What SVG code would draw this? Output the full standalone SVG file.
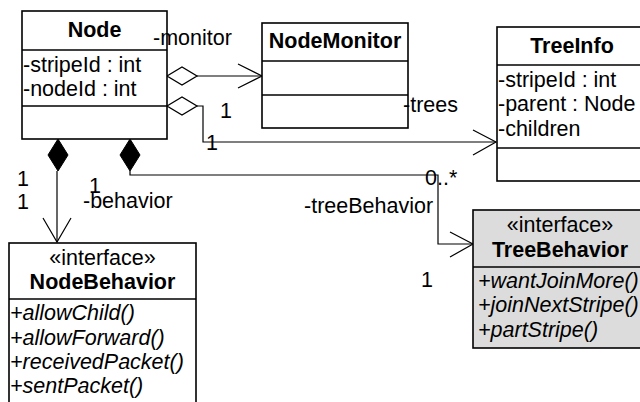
<svg xmlns="http://www.w3.org/2000/svg" width="640" height="402" viewBox="0 0 640 402">
<style>
text{font-family:"Liberation Sans",Arial,sans-serif;font-size:21.5px;fill:#000}
.b{font-weight:bold}
.i{font-style:italic}
.c{text-anchor:middle}
.box{fill:#fff;stroke:#000;stroke-width:1.6}
.gbox{fill:#dcdcdc;stroke:#000;stroke-width:1.6}
.sep{stroke:#000;stroke-width:1.6;fill:none}
.ln{fill:none;stroke:#000;stroke-width:1.2}
.hd{fill:#fff;stroke:#000;stroke-width:1.3}
.fd{fill:#000;stroke:#000;stroke-width:1}
</style>
<rect width="640" height="402" fill="#fff"/>
<g id="connectors">
  <g id="c-monitor">
    <line class="ln" x1="197" y1="76" x2="262" y2="76"/>
    <polyline class="ln" points="238,64 262,76 238,88"/>
    <polygon class="hd" points="167,76 182,67 197,76 182,85"/>
  </g>
  <g id="c-trees">
    <polyline class="ln" points="197,106 203,106 203,142 496,142"/>
    <polyline class="ln" points="473,130 496,142 473,155"/>
    <polygon class="hd" points="167,106 182,97 197,106 182,115"/>
  </g>
  <g id="c-behavior">
    <line class="ln" x1="57" y1="171" x2="57" y2="242"/>
    <polyline class="ln" points="43,218 57,242 71,218"/>
    <polygon class="fd" points="58,139 48,155 58,171 68,155"/>
  </g>
  <g id="c-treeBehavior">
    <polyline class="ln" points="130,171 130,175 438,175 438,244 473,244"/>
    <polyline class="ln" points="450,232 473,244 450,257"/>
    <polygon class="fd" points="130,139 120,155 130,171 140,155"/>
  </g>
</g>
<g id="Node">
  <rect class="box" x="22" y="11" width="145" height="128"/>
  <line class="sep" x1="22" y1="50" x2="167" y2="50"/>
  <line class="sep" x1="22" y1="106" x2="167" y2="106"/>
  <text class="b c" x="94.5" y="37">Node</text>
  <text x="23" y="72">-stripeId : int</text>
  <text x="23" y="96">-nodeId : int</text>
</g>
<g id="NodeMonitor">
  <rect class="box" x="262" y="23" width="146" height="105"/>
  <line class="sep" x1="262" y1="61" x2="408" y2="61"/>
  <line class="sep" x1="262" y1="95" x2="408" y2="95"/>
  <text class="b c" x="335" y="48">NodeMonitor</text>
</g>
<g id="TreeInfo">
  <rect class="box" x="497" y="27" width="150" height="154"/>
  <line class="sep" x1="497" y1="65" x2="647" y2="65"/>
  <line class="sep" x1="497" y1="148" x2="647" y2="148"/>
  <text class="b c" x="572" y="53">TreeInfo</text>
  <text x="498" y="87">-stripeId : int</text>
  <text x="498" y="111">-parent : Node</text>
  <text x="498" y="136">-children</text>
</g>
<g id="NodeBehavior">
  <rect class="box" x="9" y="243" width="187" height="180"/>
  <line class="sep" x1="9" y1="299" x2="196" y2="299"/>
  <text class="c" x="102.5" y="265">«interface»</text>
  <text class="b c" x="102.5" y="289">NodeBehavior</text>
  <text class="i" x="10" y="320">+allowChild()</text>
  <text class="i" x="10" y="345">+allowForward()</text>
  <text class="i" x="10" y="369">+receivedPacket()</text>
  <text class="i" x="10" y="393">+sentPacket()</text>
</g>
<g id="TreeBehavior">
  <rect class="gbox" x="473" y="210" width="174" height="138"/>
  <line class="sep" x1="473" y1="267" x2="647" y2="267"/>
  <text class="c" x="560" y="232">«interface»</text>
  <text class="b c" x="560" y="257">TreeBehavior</text>
  <text class="i" x="478" y="288">+wantJoinMore()</text>
  <text class="i" x="478" y="312">+joinNextStripe()</text>
  <text class="i" x="478" y="337">+partStripe()</text>
</g>
<g id="labels">
  <text x="153" y="45">-monitor</text>
  <text x="220" y="118">1</text>
  <text x="206" y="150">1</text>
  <text x="403" y="112">-trees</text>
  <text x="17" y="186">1</text>
  <text x="17" y="209">1</text>
  <text x="89" y="193">1</text>
  <text x="83" y="208">-behavior</text>
  <text x="425" y="185">0..*</text>
  <text x="304" y="213">-treeBehavior</text>
  <text x="421" y="287">1</text>
</g>
</svg>
